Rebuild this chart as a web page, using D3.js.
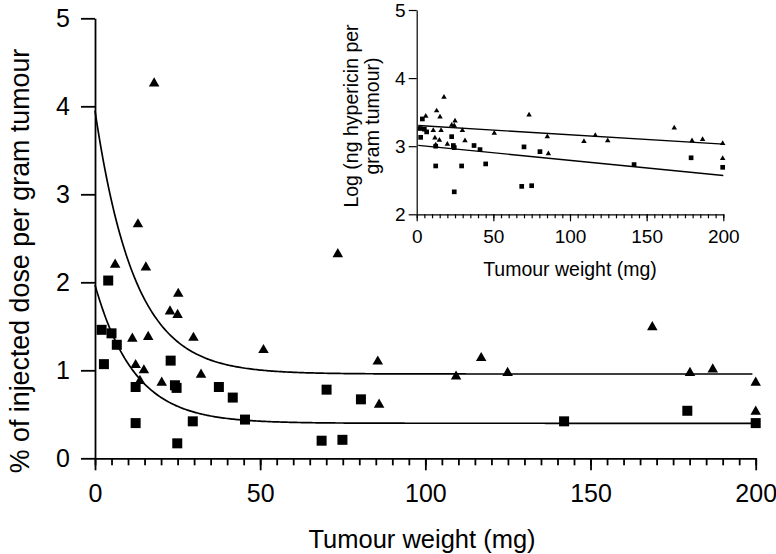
<!DOCTYPE html>
<html><head><meta charset="utf-8">
<script src="https://cdn.jsdelivr.net/npm/d3@7"></script>
<style>
html,body{margin:0;padding:0;background:#fff;}
svg{display:block;font-family:"Liberation Sans",Arial,Helvetica,sans-serif;}
</style></head>
<body>
<svg id="chart" width="776" height="554"></svg>
<script>
// ---- Main chart data: % of injected dose per gram tumour vs tumour weight (mg)
const squareX = [2.0, 5.0, 4.0, 6.6, 2.7, 12.3, 12.3, 22.9, 24.2, 24.7, 24.9, 29.6, 37.5, 41.7, 45.4, 68.6, 70.1, 74.9, 80.5, 142, 179.3, 200];
const squareY = [1.46, 1.42, 2.02, 1.29, 1.07, 0.81, 0.40, 1.11, 0.83, 0.80, 0.17, 0.42, 0.81, 0.69, 0.44, 0.20, 0.78, 0.21, 0.67, 0.42, 0.54, 0.40];
const triX = [17.9, 13.0, 6.1, 15.4, 73.5, 25.2, 22.7, 25.0, 11.3, 16.1, 29.8, 51.0, 12.3, 14.8, 13.6, 20.2, 32.1, 85.6, 86.0, 109.3, 116.9, 124.9, 168.7, 180.1, 187.0, 200, 200];
const triY = [4.26, 2.66, 2.20, 2.17, 2.32, 1.87, 1.67, 1.63, 1.36, 1.38, 1.37, 1.23, 1.06, 1.00, 0.88, 0.86, 0.95, 1.10, 0.61, 0.93, 1.14, 0.97, 1.49, 0.97, 1.01, 0.86, 0.53];
// one-phase exponential decay fits: [start value, plateau, rate constant, last x]
const triFit = [3.95, 0.958, 0.084, 199];
const squareFit = [1.97, 0.398, 0.084, 199];
const mainYTicks = [0, 1, 2, 3, 4, 5];
const mainXTicks = [0, 50, 100, 150, 200];

// ---- Inset data: log (ng hypericin per gram tumour)
const insetTriX = [17.8, 13.0, 5.9, 15.2, 25.0, 22.8, 24.5, 73.3, 10.8, 15.9, 29.8, 50.6, 11.9, 14.8, 31.5, 20.0, 12.4, 85.2, 85.9, 109.1, 116.5, 124.6, 168.0, 179.6, 186.5, 199.6, 199.6];
const insetTriY = [3.72, 3.52, 3.44, 3.43, 3.37, 3.31, 3.30, 3.46, 3.23, 3.23, 3.23, 3.19, 3.12, 3.09, 3.08, 3.03, 3.02, 3.14, 2.89, 3.07, 3.16, 3.08, 3.27, 3.08, 3.10, 3.04, 2.82];
const insetSqX = [3.7, 2.2, 5.0, 6.5, 2.6, 22.8, 12.4, 23.9, 24.5, 37.4, 41.3, 45.0, 12.4, 29.3, 24.5, 70.0, 80.4, 141.8, 179.0, 199.6, 68.5, 75.0];
const insetSqY = [3.40, 3.26, 3.25, 3.21, 3.13, 3.14, 3.00, 3.01, 2.98, 3.01, 2.95, 2.74, 2.71, 2.71, 2.33, 2.99, 2.92, 2.73, 2.83, 2.69, 2.41, 2.42];
// linear regressions: [intercept, slope, first x, last x]
const insetTriFit = [3.305, -0.00137, 1, 200];
const insetSqFit = [3.015, -0.00223, 1, 200];
const insetYTicks = [2, 3, 4, 5];
const insetXTicks = [0, 50, 100, 150, 200];

const svg = d3.select("#chart");
const zip = (xs, ys) => xs.map((x, i) => [x, ys[i]]);

function styleAxis(g, width, fontSize) {
  g.selectAll("path.domain").attr("stroke", "#000").attr("stroke-width", width);
  g.selectAll(".tick line").attr("stroke", "#000").attr("stroke-width", width);
  g.selectAll(".tick text").attr("fill", "#000").attr("font-size", fontSize)
    .attr("font-family", "'Liberation Sans',Arial,Helvetica,sans-serif");
}

// ================= MAIN =================
const x = d3.scaleLinear().domain([0, 200]).range([95, 755.7]);
const y = d3.scaleLinear().domain([0, 5]).range([458.3, 18.3]);

const gxMinor = svg.append("g").attr("transform", `translate(0,${y(0)})`)
  .call(d3.axisBottom(x).tickValues(d3.range(0, 201, 5)).tickSize(7).tickSizeOuter(0).tickFormat(""));
styleAxis(gxMinor, 1.8, 25);
const gx = svg.append("g").attr("transform", `translate(0,${y(0)})`)
  .call(d3.axisBottom(x).tickValues(mainXTicks).tickSize(12).tickSizeOuter(0).tickPadding(14).tickFormat(d3.format("d")));
styleAxis(gx, 1.8, 25);
gx.select("path.domain").remove();

const gy = svg.append("g").attr("transform", `translate(${x(0)},0)`)
  .call(d3.axisLeft(y).tickValues(mainYTicks).tickSize(14).tickSizeOuter(0).tickPadding(11).tickFormat(d3.format("d")));
styleAxis(gy, 1.8, 25);

svg.append("text").attr("x", 422).attr("y", 548).attr("text-anchor", "middle")
  .attr("font-size", 25.5).text("Tumour weight (mg)");
svg.append("text").attr("transform", "translate(29,261) rotate(-90)").attr("text-anchor", "middle")
  .attr("font-size", 26.8).text("% of injected dose per gram tumour");

function decay(fit) {
  const [y0, plateau, k, xEnd] = fit;
  return d3.range(0, xEnd + 0.001, 0.5).map(t => [t, plateau + (y0 - plateau) * Math.exp(-k * t)]);
}
const line = d3.line().x(d => x(d[0])).y(d => y(d[1]));
[triFit, squareFit].forEach(f => {
  svg.append("path").attr("d", line(decay(f))).attr("fill", "none").attr("stroke", "#000").attr("stroke-width", 1.7);
});

const triSym = d3.symbol().type(d3.symbolTriangle).size(48);
const sqSym = d3.symbol().type(d3.symbolSquare).size(100);
svg.append("g").selectAll("path").data(zip(squareX, squareY)).join("path")
  .attr("d", sqSym).attr("transform", d => `translate(${x(d[0])},${y(d[1])})`).attr("fill", "#000");
svg.append("g").selectAll("path").data(zip(triX, triY)).join("path")
  .attr("d", triSym).attr("transform", d => `translate(${x(d[0])},${y(d[1])})`).attr("fill", "#000");

// ================= INSET =================
const ix = d3.scaleLinear().domain([0, 200]).range([416.7, 723.3]);
const iy = d3.scaleLinear().domain([2, 5]).range([214.3, 10]);

const igxMinor = svg.append("g").attr("transform", `translate(0,${iy(2)})`)
  .call(d3.axisBottom(ix).tickValues(d3.range(0, 201, 5)).tickSize(4).tickSizeOuter(0).tickFormat(""));
styleAxis(igxMinor, 1.2, 19);
const igx = svg.append("g").attr("transform", `translate(0,${iy(2)})`)
  .call(d3.axisBottom(ix).tickValues(insetXTicks).tickSize(7).tickSizeOuter(0).tickPadding(8).tickFormat(d3.format("d")));
styleAxis(igx, 1.2, 19);
igx.select("path.domain").remove();
const igy = svg.append("g").attr("transform", `translate(${ix(0)},0)`)
  .call(d3.axisLeft(iy).tickValues(insetYTicks).tickSize(8).tickSizeOuter(0).tickPadding(3).tickFormat(d3.format("d")));
styleAxis(igy, 1.2, 19);

svg.append("text").attr("x", 570).attr("y", 276).attr("text-anchor", "middle")
  .attr("font-size", 19.5).text("Tumour weight (mg)");
const yl = svg.append("text").attr("transform", "translate(358,116) rotate(-90)")
  .attr("text-anchor", "middle").attr("font-size", 19.5);
yl.append("tspan").attr("x", 0).attr("y", 0).text("Log (ng hypericin per");
yl.append("tspan").attr("x", 0).attr("y", 20.5).text("gram tumour)");

const iline = d3.line().x(d => ix(d[0])).y(d => iy(d[1]));
[insetTriFit, insetSqFit].forEach(f => {
  const [b, m, x0, x1] = f;
  svg.append("path").attr("d", iline([[x0, b + m * x0], [x1, b + m * x1]]))
    .attr("fill", "none").attr("stroke", "#000").attr("stroke-width", 1.4);
});

const itriSym = d3.symbol().type(d3.symbolTriangle).size(13);
const isqSym = d3.symbol().type(d3.symbolSquare).size(22);
svg.append("g").selectAll("path").data(zip(insetSqX, insetSqY)).join("path")
  .attr("d", isqSym).attr("transform", d => `translate(${ix(d[0])},${iy(d[1])})`).attr("fill", "#000");
svg.append("g").selectAll("path").data(zip(insetTriX, insetTriY)).join("path")
  .attr("d", itriSym).attr("transform", d => `translate(${ix(d[0])},${iy(d[1])})`).attr("fill", "#000");
</script>
</body></html>
